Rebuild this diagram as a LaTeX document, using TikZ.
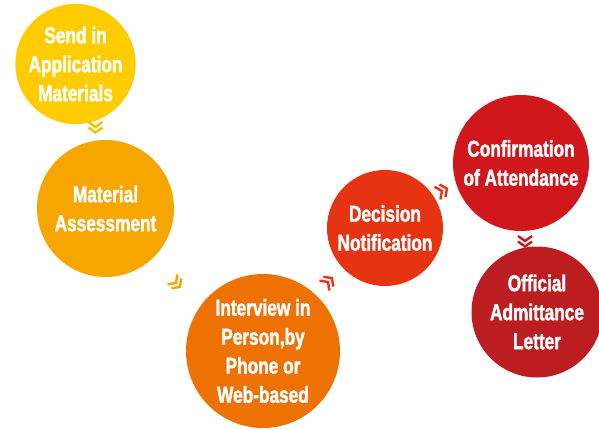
\documentclass[tikz,border=0pt]{standalone}
\usepackage{fontspec}
\newfontfamily\condf{Liberation Sans}[FakeStretch=0.75,FakeBold=1.6]
\definecolor{cA}{HTML}{FFCC00}
\definecolor{cB}{HTML}{F7A600}
\definecolor{cC}{HTML}{EE7203}
\definecolor{cD}{HTML}{E63312}
\definecolor{cE}{HTML}{D0171C}
\definecolor{cF}{HTML}{BC1D21}
\tikzset{
  stage/.style={circle, inner sep=0pt, text=white, align=center,
    font=\condf\bfseries\fontsize{23}{29}\selectfont},
  dchev/.pic={
    \draw[line width=2.4pt, line cap=butt, line join=miter, pic actions]
      (-5,-7) -- (0,0) -- (-5,7);
    \draw[line width=2.4pt, line cap=butt, line join=miter, pic actions]
      (0.5,-7) -- (5.5,0) -- (0.5,7);
  }
}
\begin{document}
\begin{tikzpicture}[x=1pt,y=-1pt]
\useasboundingbox[fill=white] (0,0) rectangle (599,429);
\node[stage, fill=cA, minimum size=117pt] (s1) at (75.5,64) {Send in\\Application\\Materials};
\node[stage, fill=cB, minimum size=137pt] (s2) at (105.5,208.5) {Material\\Assessment};
\node[stage, fill=cC, minimum size=154pt] (s3) at (263,351) {Interview in\\Person,by\\Phone or\\Web-based};
\node[stage, fill=cD, minimum size=116pt] (s4) at (385,228) {Decision\\Notification};
\node[stage, fill=cE, minimum size=136pt] (s5) at (521,163) {Confirmation\\of Attendance};
\node[stage, fill=cF, minimum size=131pt] (s6) at (537,312) {Official\\Admittance\\Letter};
\pic[draw=cA!95!black, rotate=-90] at (95.5,127) {dchev};
\pic[draw=cB, rotate=-45] at (176,283) {dchev};
\pic[draw=cD, rotate=45] at (328,282) {dchev};
\pic[draw=cD, rotate=25] at (442,191) {dchev};
\pic[draw=cE, rotate=-90] at (525,241) {dchev};
\end{tikzpicture}
\end{document}
